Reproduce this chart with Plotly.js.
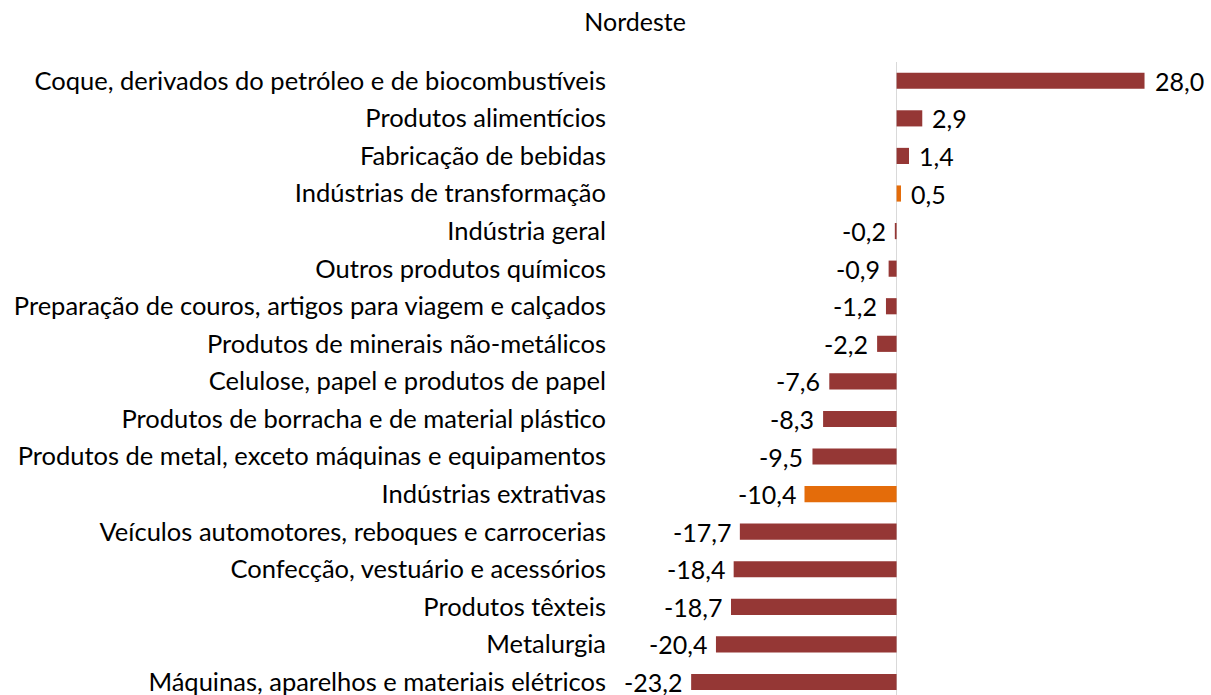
<!DOCTYPE html>
<html>
<head>
<meta charset="utf-8">
<script src="https://cdn.plot.ly/plotly-3.0.1.min.js"></script>
<style>html,body{margin:0;padding:0;background:#fff;}#chart{width:1211px;height:695px;}</style>
</head>
<body>
<div id="chart"></div>
<script>
const categories = [
  "Coque, derivados do petróleo e de biocombustíveis",
  "Produtos alimentícios",
  "Fabricação de bebidas",
  "Indústrias de transformação",
  "Indústria geral",
  "Outros produtos químicos",
  "Preparação de couros, artigos para viagem e calçados",
  "Produtos de minerais não-metálicos",
  "Celulose, papel e produtos de papel",
  "Produtos de borracha e de material plástico",
  "Produtos de metal, exceto máquinas e equipamentos",
  "Indústrias extrativas",
  "Veículos automotores, reboques e carrocerias",
  "Confecção, vestuário e acessórios",
  "Produtos têxteis",
  "Metalurgia",
  "Máquinas, aparelhos e materiais elétricos"
];
const values = [28.0, 2.9, 1.4, 0.5, -0.2, -0.9, -1.2, -2.2, -7.6, -8.3, -9.5, -10.4, -17.7, -18.4, -18.7, -20.4, -23.2];
const highlighted = ["Indústrias de transformação", "Indústrias extrativas"];

const RED = "#953735", ORANGE = "#E46C0A";
const FONT = "Lato, 'Open Sans', sans-serif";
const fmt = v => v.toFixed(1).replace(".", ",");

const trace = {
  type: "bar",
  orientation: "h",
  x: values,
  y: categories,
  marker: { color: categories.map(c => highlighted.includes(c) ? ORANGE : RED) },
  hoverinfo: "none",
  cliponaxis: false
};

const annotations = values.map((v, i) => ({
  x: v, y: categories[i], xref: "x", yref: "y",
  text: fmt(v), showarrow: false,
  xanchor: v >= 0 ? "left" : "right",
  yanchor: "middle",
  borderpad: 0,
  xshift: v >= 0 ? 9 : -8,
  font: { family: FONT, size: 25, color: "#000" }
}));

const layout = {
  width: 1211, height: 695,
  margin: { l: 615, r: 16, t: 62, b: 0, pad: 0 },
  paper_bgcolor: "#fff", plot_bgcolor: "#fff",
  showlegend: false,
  bargap: 0.57,
  title: {
    text: "Nordeste", xref: "container", yref: "container",
    x: 0.5245, y: 1 - 22 / 695, xanchor: "center", yanchor: "middle",
    font: { family: FONT, size: 25, color: "#000" }
  },
  xaxis: {
    range: [-31.8, 33.7],
    showgrid: false, showticklabels: false, ticks: "",
    zeroline: true, zerolinecolor: "#d9d9d9", zerolinewidth: 1.5,
    showline: false, fixedrange: true
  },
  yaxis: {
    type: "category",
    range: [16.346, -0.5],
    showgrid: false, zeroline: false, showline: false,
    ticks: "", ticklen: 0, ticklabelstandoff: 8,
    tickfont: { family: FONT, size: 25.5, color: "#000" },
    fixedrange: true
  },
  annotations: annotations,
  font: { family: FONT }
};

Plotly.newPlot("chart", [trace], layout, { displayModeBar: false, staticPlot: true });
</script>
</body>
</html>
